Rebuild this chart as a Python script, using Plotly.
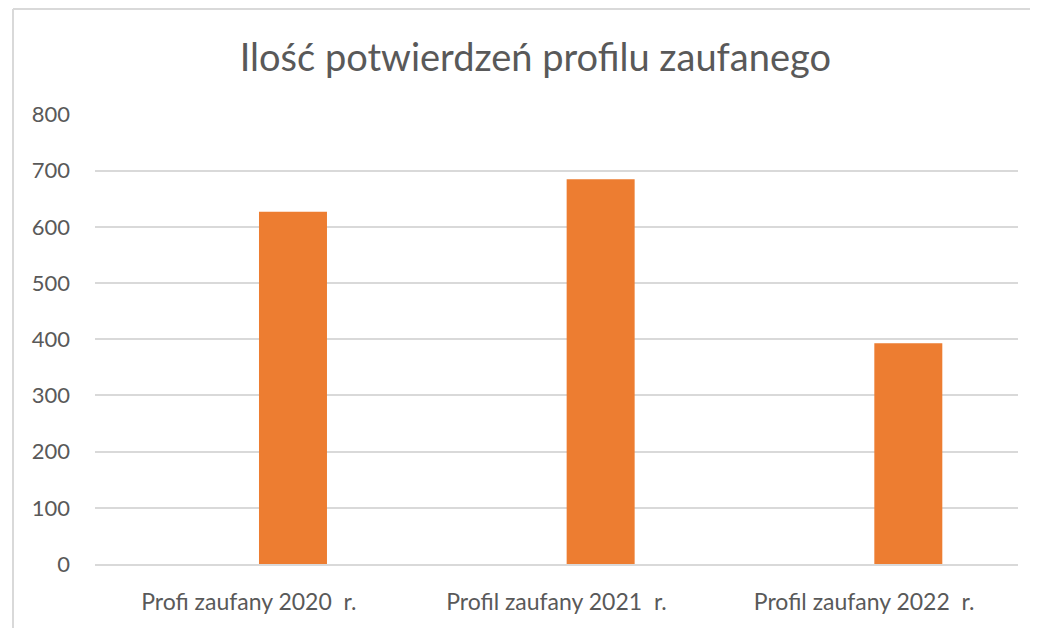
import plotly.graph_objects as go

categories = ["Profi zaufany 2020  r.", "Profil zaufany 2021  r.", "Profil zaufany 2022  r."]
values = [627, 685, 393]
y_ticks = [0, 100, 200, 300, 400, 500, 600, 700, 800]
title_text = "Ilość potwierdzeń profilu zaufanego"

FONT = "Lato, 'Open Sans', sans-serif"
GRAY = "#595959"

fig = go.Figure()
fig.add_trace(go.Bar(
    x=categories,
    y=values,
    marker=dict(color="#ED7D31", line=dict(width=0)),
    width=0.221,
    offset=0.033,
    hoverinfo="x+y",
))

fig.update_layout(
    width=1030,
    height=620,
    paper_bgcolor="white",
    plot_bgcolor="white",
    margin=dict(l=87, r=20, t=106, b=64),
    showlegend=False,
    title=dict(
        text=title_text,
        x=0.512,
        xanchor="center",
        y=0.92,
        yanchor="middle",
        font=dict(family=FONT, size=38, color=GRAY),
    ),
    xaxis=dict(
        type="category",
        showgrid=False,
        showline=True,
        linecolor="#d9d9d9",
        linewidth=1.5,
        ticks="",
        tickfont=dict(family=FONT, size=23, color=GRAY),
        ticklabelstandoff=17,
    ),
    yaxis=dict(
        range=[0, 801],
        tickvals=y_ticks,
        showgrid=True,
        gridcolor="#d9d9d9",
        gridwidth=1.5,
        zeroline=False,
        showline=False,
        ticks="",
        tickfont=dict(family=FONT, size=22, color=GRAY),
        ticklabelstandoff=24,
    ),
    shapes=[
        dict(type="line", xref="paper", yref="paper",
             x0=-82/923, x1=1.03, y0=1 + 105/450, y1=1 + 105/450,
             line=dict(color="#d9d9d9", width=2)),
        dict(type="line", xref="paper", yref="paper",
             x0=-82/923, x1=-82/923, y0=1 + 105/450, y1=-0.2,
             line=dict(color="#d9d9d9", width=2)),
    ],
)

fig.write_html("out.html")
